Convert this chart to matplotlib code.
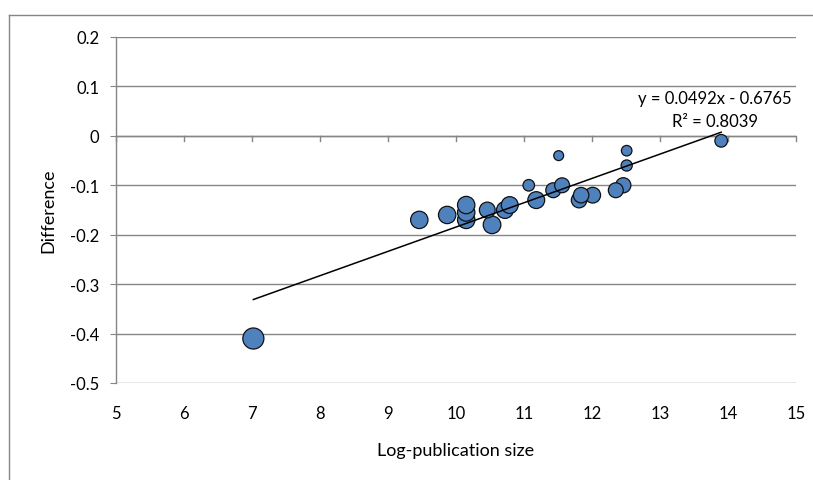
import matplotlib
matplotlib.use("Agg")
import matplotlib.pyplot as plt
from matplotlib.lines import Line2D
import numpy as np

# data
log_pub_size = [7.02, 9.46, 9.87, 10.15, 10.15, 10.15, 10.46, 10.53, 10.72, 10.79,
                11.07, 11.18, 11.43, 11.51, 11.56, 11.81, 11.84, 12.01, 12.35, 12.46,
                12.51, 12.51, 13.90]
difference = [-0.41, -0.17, -0.16, -0.17, -0.155, -0.14, -0.15, -0.18, -0.15, -0.14,
              -0.10, -0.13, -0.11, -0.04, -0.10, -0.13, -0.12, -0.12, -0.11, -0.10,
              -0.06, -0.03, -0.01]
bubble_size = [100, 68, 68, 68, 68, 68, 56, 70, 64, 64,
               30, 64, 50, 22, 50, 54, 54, 56, 50, 52,
               28, 25, 36]
trend_slope = 0.0492
trend_intercept = -0.6765
r_squared = 0.8039

GREY = "#868686"
FONT = "Lato"

fig = plt.figure(figsize=(8.13, 4.81), dpi=100)
ax = fig.add_axes([116 / 813, 1 - 384 / 481, 680 / 813, 346 / 481])

# outer chart frame (cropped at right / bottom like the screenshot)
fig.add_artist(Line2D([9 / 813, 9 / 813], [1 - 16 / 481, -0.05], color=GREY, lw=1.0,
                      transform=fig.transFigure))
fig.add_artist(Line2D([9 / 813, 1.05], [1 - 16 / 481, 1 - 16 / 481], color=GREY, lw=1.0,
                      transform=fig.transFigure))

x = np.array(log_pub_size)
y = np.array(difference)
s = np.array(bubble_size, dtype=float)
order = np.argsort(-s, kind="stable")   # big bubbles first, small on top
ax.scatter(x[order], y[order], s=s[order] * 2.3, color="#4F81BD",
           edgecolor="#111111", linewidth=0.9, zorder=3)

# linear trendline over data range
tx = np.array([x.min(), x.max()])
ax.plot(tx, trend_slope * tx + trend_intercept, color="black", lw=1.1, zorder=4)

ax.text(13.81, 0.077, f"y = {trend_slope:.4f}x - {abs(trend_intercept):.4f}",
        ha="center", va="center", fontsize=12, family=FONT)
ax.text(13.81, 0.031, f"R² = {r_squared:.4f}", ha="center", va="center",
        fontsize=12, family=FONT)

ax.set_xlim(5, 15)
ax.set_ylim(-0.5, 0.2)
ax.set_xticks(np.arange(5, 16, 1))
ax.set_yticks(np.round(np.arange(-0.5, 0.21, 0.1), 1))
ax.set_yticklabels(["-0.5", "-0.4", "-0.3", "-0.2", "-0.1", "0", "0.1", "0.2"])

ax.grid(axis="y", color=GREY, lw=1.0, zorder=0)
ax.set_axisbelow(True)
for side in ["top", "right", "bottom"]:
    ax.spines[side].set_visible(False)
ax.spines["left"].set_color(GREY)
ax.spines["left"].set_linewidth(1.0)

# horizontal axis crosses at y = 0, labels kept low
ax.axhline(0, color=GREY, lw=1.0, zorder=1)
for xt in np.arange(5, 16, 1):
    ax.plot([xt, xt], [0, -0.011], color=GREY, lw=1.0, zorder=1, clip_on=False)
ax.tick_params(axis="x", length=0, pad=16, labelsize=12)
ax.tick_params(axis="y", length=4.5, color=GREY, labelsize=12, pad=7.5)
for lab in ax.get_xticklabels() + ax.get_yticklabels():
    lab.set_family(FONT)

ax.set_xlabel("Log-publication size", fontsize=13, family=FONT, labelpad=15)
ax.set_ylabel("Difference", fontsize=13, family=FONT, labelpad=10)

fig.savefig("out.png", dpi=100)
